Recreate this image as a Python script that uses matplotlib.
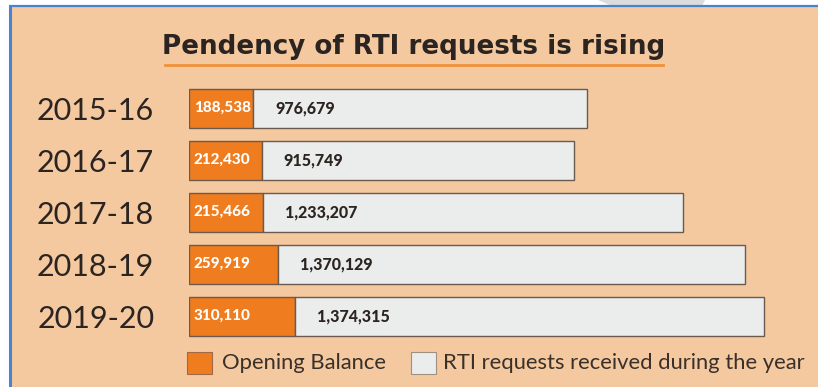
import matplotlib.pyplot as plt
from matplotlib.patches import Rectangle, Polygon

years = ["2015-16", "2016-17", "2017-18", "2018-19", "2019-20"]
opening_balance = [188538, 212430, 215466, 259919, 310110]
received = [976679, 915749, 1233207, 1370129, 1374315]

PEACH = "#f4c9a0"
ORANGE = "#ef7d1f"
GREY = "#ebecec"
EDGE = "#6b5a4e"
DARK = "#2b2420"

W, H = 818, 387
fig = plt.figure(figsize=(W / 100, H / 100), dpi=100)
fig.patch.set_facecolor("white")

# background panel drawn in pixel coordinates
bg = fig.add_axes([0, 0, 1, 1])
bg.set_xlim(0, W)
bg.set_ylim(H, 0)
bg.axis("off")
bg.add_patch(Polygon([(598, 0), (705, 0), (702, 6), (612, 6)], closed=True,
                     facecolor="#dcdcdc", edgecolor="none"))
bg.add_patch(Rectangle((10, 6), W - 10, H - 6, facecolor=PEACH, edgecolor="none"))
bg.plot([9.5, 9.5], [5, H], color="#4a82cc", lw=2.2, solid_capstyle="butt")
bg.plot([9, W], [5.5, 5.5], color="#4a82cc", lw=1.6, solid_capstyle="butt")

bg.text(414, 54, "Pendency of RTI requests is rising", ha="center", va="baseline",
        fontsize=18.8, fontweight="bold", color=DARK, family="DejaVu Sans")
bg.plot([165, 663], [64.5, 64.5], color="#f0913a", lw=2)

# legend keys
bg.add_patch(Rectangle((187, 352), 25, 22, facecolor=ORANGE, edgecolor="#a06a45", lw=0.8))
bg.text(222, 363, "Opening Balance", ha="left", va="center", fontsize=15.8,
        color="#3a302a", family="Lato")
bg.add_patch(Rectangle((411, 352), 25, 22, facecolor=GREY, edgecolor="#a09080", lw=0.8))
bg.text(443, 363, "RTI requests received during the year", ha="left", va="center",
        fontsize=15.8, color="#3a302a", family="Lato")

# bar area: zero at x=189px, rows 52px apart
scale = 2930.0  # values per pixel
xmax = 1.8e6
left_px, top_px, bottom_px = 189, 82, 342
ax = fig.add_axes([left_px / W, (H - bottom_px) / H,
                   (xmax / scale) / W, (bottom_px - top_px) / H])
ax.set_xlim(0, xmax)
ax.set_ylim(len(years) - 0.5, -0.5)
ax.patch.set_alpha(0)
for s in ax.spines.values():
    s.set_visible(False)
ax.set_xticks([])
ax.set_yticks(range(len(years)), years)
ax.tick_params(axis="y", length=0, pad=25)
for lab in ax.get_yticklabels():
    lab.set_fontsize(22)
    lab.set_family("Lato")
    lab.set_color(DARK)

ypos = list(range(len(years)))
ax.barh(ypos, opening_balance, height=0.75, color=ORANGE, edgecolor=EDGE, lw=1)
ax.barh(ypos, received, left=opening_balance, height=0.75, color=GREY,
        edgecolor=EDGE, lw=1)

for i, (op, rec) in enumerate(zip(opening_balance, received)):
    ax.annotate(f"{op:,}", xy=(0, i), xytext=(3.5, 0), textcoords="offset points",
                ha="left", va="center", fontsize=11, fontweight="black",
                color="white", family="Lato")
    ax.annotate(f"{rec:,}", xy=(op, i), xytext=(16, 0), textcoords="offset points",
                ha="left", va="center", fontsize=11.5, fontweight="black",
                color=DARK, family="Lato")

fig.savefig("out.png", dpi=100, facecolor=fig.get_facecolor())
